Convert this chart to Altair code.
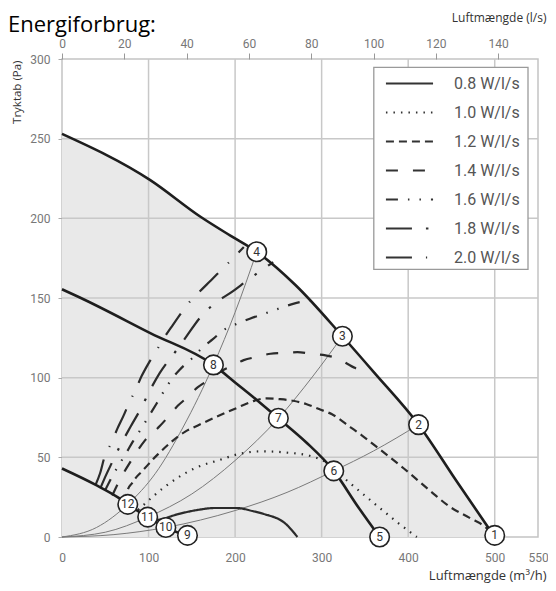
import altair as alt
import pandas as pd

TITLE = "Energiforbrug:"
X_TITLE = "Luftmængde (m³/h)"
TOP_TITLE = "Luftmængde (l/s)"
Y_TITLE = "Tryktab (Pa)"

AXIS_FONT = "Roboto, sans-serif"
TEXT_FONT = "Open Sans, sans-serif"

# axis ticks / grid
x_ticks = [0, 100, 200, 300, 400, 500, 550]
ls_ticks = [0, 20, 40, 60, 80, 100, 120, 140]
y_ticks = [0, 50, 100, 150, 200, 250, 300]
x_grid = [100, 200, 300, 400, 500]
y_grid = [50, 100, 150, 200, 250]

# fan curves (m3/h, Pa)
max_q = [0, 102, 160, 195, 225, 270, 324, 361, 412, 456, 500]
max_p = [253, 224, 201, 189, 179, 158, 126, 103, 70.5, 35, 0]
mid_q = [0, 20, 102, 175, 200, 225, 250, 282, 314, 342, 367]
mid_p = [155.5, 150.5, 128, 108, 97, 86, 74.5, 59.5, 41.5, 19, 0]
low_q = [0, 39, 66, 76, 99, 120, 145]
low_p = [43, 32.7, 24.4, 20.5, 12.5, 6, 0.5]

# system curves
sys1_q = [0, 40, 76, 108, 140, 175, 200, 225]
sys1_p = [0, 6, 20.5, 40, 69, 108, 141, 179]
sys2_q = [0, 50, 99, 150, 200, 250, 290, 324]
sys2_p = [0, 3, 12.5, 27, 48, 74.5, 101, 126]
sys3_q = [0, 60, 120, 200, 260, 314, 360, 412]
sys3_p = [0, 1.5, 6, 16.6, 28, 41.5, 54, 70.5]

# operating points
pt_id = [1, 2, 3, 4, 5, 6, 7, 8, 9, 10, 11, 12]
pt_q = [500, 412, 324, 225, 367, 314, 250, 175, 145, 120, 99, 76]
pt_p = [1, 70.5, 126, 179, 0, 41.5, 74.5, 108, 1, 6, 12.5, 20.5]

# energy (SFP) curves
sfp_labels = ["0.8 W/l/s", "1.0 W/l/s", "1.2 W/l/s", "1.4 W/l/s",
              "1.6 W/l/s", "1.8 W/l/s", "2.0 W/l/s"]
e08_q = [104, 111, 135, 157, 176, 202, 220, 233, 259, 272]
e08_p = [10.5, 10.8, 14.5, 17, 18.2, 18.2, 16.3, 14.5, 8, 0]
e10_q = [88, 92, 119, 157, 180, 206, 233, 259, 286, 305, 327, 361, 388, 410]
e10_p = [17, 19, 31.6, 44, 48, 52.3, 53.8, 53, 51, 47, 36.5, 21, 9, 0]
e12_q = [73, 76, 81, 85, 92, 111, 142, 157, 185, 202, 217, 236, 252, 267,
         282, 297, 312, 333, 346, 361, 395, 426, 448, 471, 490, 500]
e12_p = [22, 29.6, 33.8, 37, 41, 52, 66, 70, 77, 81, 84.5, 87, 86.5, 85.5,
         83.5, 80.3, 77, 69, 64, 57.7, 43, 28.7, 19, 12, 5.8, 0]
e14_q = [58, 65, 80, 95, 113, 122, 134, 143.5, 157, 168, 187, 195, 210, 224.5,
         241, 256, 272, 287.5, 304.5, 316, 339, 348]
e14_p = [26, 34, 48, 60, 69.6, 75, 82.5, 87, 94, 98, 105, 107, 111, 113,
         115, 115.5, 116, 115, 114, 112.5, 106, 104]
e16_q = [50, 57, 75, 82, 92, 102, 109, 118, 128, 136, 150, 164.5, 174, 187,
         203, 217, 233, 250, 265, 280, 292]
e16_p = [29.5, 37, 53.5, 60, 68.4, 77.3, 83.5, 91.7, 100, 105, 112, 120, 124,
         130, 134, 137, 140, 143.3, 146, 148, 149]
e18_q = [45, 51, 58, 66, 79, 90, 104, 113, 132, 142, 160, 174, 198, 214, 240, 244]
e18_p = [31.5, 39, 47, 56, 69, 79.5, 94.5, 103, 117, 124.5, 138, 145.5, 154.5,
         161, 171, 172.5]
e20_q = [39, 44, 49, 57, 64, 71, 77, 85, 92, 100, 108, 118, 128, 137, 145,
         159, 172, 183, 194, 210]
e20_p = [33, 40, 50, 59, 68, 76, 83.5, 92.4, 101, 109, 116, 125, 133, 140,
         146, 154, 161, 167, 173, 182]
sfp_dash = [[1, 0], [1.5, 6], [8, 5], [12, 15], [12, 10, 1.5, 10, 1.5, 10],
            [26, 14, 2.5, 14], [26, 14, 1.2, 14]]


def frame(name, qs, ps):
    return pd.DataFrame({"curve": name, "q": qs, "p": ps, "order": range(len(qs))})


df_max = frame("max", max_q, max_p)
df_main = pd.concat([df_max, frame("mid", mid_q, mid_p), frame("low", low_q, low_p)])
df_sys = pd.concat([frame("s1", sys1_q, sys1_p), frame("s2", sys2_q, sys2_p),
                    frame("s3", sys3_q, sys3_p)])
energy = [(e08_q, e08_p), (e10_q, e10_p), (e12_q, e12_p), (e14_q, e14_p),
          (e16_q, e16_p), (e18_q, e18_p), (e20_q, e20_p)]
df_energy = pd.concat([frame(lab, q, p) for lab, (q, p) in zip(sfp_labels, energy)])
df_pts = pd.DataFrame({"id": pt_id, "q": pt_q, "p": pt_p})

xs = alt.Scale(domain=[0, 550], nice=False, zero=False)
ys = alt.Scale(domain=[0, 300], nice=False)

bottom_axis = alt.Axis(
    orient="bottom", values=x_ticks, grid=False, domain=False, ticks=False,
    labelFlush=False, labelPadding=15, labelFont=AXIS_FONT, labelFontSize=12,
    labelColor="#777", title=X_TITLE, titleFont=TEXT_FONT, titleFontSize=13,
    titleFontWeight="normal", titleColor="#333", titleX=484, titleY=42,
    titleAlign="right", titleBaseline="alphabetic")
top_axis = alt.Axis(
    orient="top", values=[v * 3.6 for v in ls_ticks],
    labelExpr="round(datum.value / 3.6)", grid=False, domain=False, ticks=True,
    labelFlush=False, tickSize=6, tickColor="#999", labelPadding=3, labelFont=AXIS_FONT,
    labelFontSize=12, labelColor="#777", title=TOP_TITLE, titleFont=TEXT_FONT,
    titleFontSize=12, titleFontWeight="normal", titleColor="#333", titleX=484,
    titleY=-38, titleAlign="right", titleBaseline="alphabetic")
left_axis = alt.Axis(
    orient="left", values=y_ticks, grid=False, domain=False, tickSize=4, tickColor="#aaa",
    labelFlush=False, labelPadding=8, labelFont=AXIS_FONT, labelFontSize=12,
    labelColor="#777", title=Y_TITLE, titleFont=TEXT_FONT, titleFontSize=11.5,
    titleFontWeight="normal", titleColor="#333", titleX=-45, titleY=1, titleAngle=270,
    titleAlign="right", titleBaseline="middle")

area = alt.Chart(df_max).mark_area(color="#e9e9e9", interpolate="monotone").encode(
    x=alt.X("q:Q", scale=xs, axis=bottom_axis),
    y=alt.Y("p:Q", scale=ys, axis=left_axis),
)
vgrid = alt.Chart(pd.DataFrame({"q": x_grid})).mark_rule(color="#c8c8c8", strokeWidth=1.5).encode(
    x=alt.X("q:Q", scale=xs, axis=top_axis))
hgrid = alt.Chart(pd.DataFrame({"p": y_grid})).mark_rule(color="#c8c8c8", strokeWidth=1.5).encode(
    y=alt.Y("p:Q", scale=ys, axis=None))

sys_lines = alt.Chart(df_sys).mark_line(color="#7a7a7a", strokeWidth=1, interpolate="monotone").encode(
    x=alt.X("q:Q", scale=xs, axis=None), y=alt.Y("p:Q", scale=ys, axis=None),
    detail="curve:N", order="order:Q")

energy_lines = alt.Chart(df_energy).mark_line(color="#2b2b2b", strokeWidth=2.2, interpolate="monotone").encode(
    x=alt.X("q:Q", scale=xs, axis=None), y=alt.Y("p:Q", scale=ys, axis=None),
    detail="curve:N", order="order:Q",
    strokeDash=alt.StrokeDash(
        "curve:N", scale=alt.Scale(domain=sfp_labels, range=sfp_dash),
        legend=alt.Legend(
            title=None, orient="none", legendX=327, legendY=4, direction="vertical",
            symbolType="M-1.24,0H1.24", symbolSize=1444, symbolStrokeWidth=2.2,
            symbolStrokeColor="#333", labelFont=AXIS_FONT, labelFontSize=16,
            labelColor="#555", labelOffset=24, rowPadding=0, padding=0)))

main_lines = alt.Chart(df_main).mark_line(color="#1e1e1e", strokeWidth=2.6, interpolate="monotone").encode(
    x=alt.X("q:Q", scale=xs, axis=None), y=alt.Y("p:Q", scale=ys, axis=None),
    detail="curve:N", order="order:Q")

circles = alt.Chart(df_pts).mark_point(shape="circle", filled=True, fill="white", stroke="#222",
                                       strokeWidth=1.6, size=380, opacity=1).encode(
    x=alt.X("q:Q", scale=xs, axis=None), y=alt.Y("p:Q", scale=ys, axis=None))
labels = alt.Chart(df_pts).mark_text(font=AXIS_FONT, fontSize=12, color="#333",
                                     align="center", baseline="middle").encode(
    x=alt.X("q:Q", scale=xs, axis=None), y=alt.Y("p:Q", scale=ys, axis=None), text="id:N")

legend_box = alt.Chart(pd.DataFrame({"box": [1]})).mark_rect(
    fill="white", stroke="#9a9a9a", strokeWidth=1.3).encode(
    x=alt.value(311.8), x2=alt.value(466), y=alt.value(8.4), y2=alt.value(210.4))

title_text = alt.Chart(pd.DataFrame({"t": [TITLE]})).mark_text(
    font=TEXT_FONT, fontSize=22, color="#000", align="left", baseline="alphabetic").encode(
    text="t:N", x=alt.value(-54), y=alt.value(-27.3))

chart = alt.layer(area, vgrid, hgrid, sys_lines, energy_lines, main_lines, circles, labels,
                  legend_box, title_text).resolve_axis(x="independent", y="independent").properties(
    width=476, height=478,
    padding={"left": 54, "top": 51, "right": 10, "bottom": 46},
    autosize=alt.AutoSizeParams(type="none"),
).configure_view(stroke="#c4c4c4", strokeWidth=1.5)

chart.save("out.html", embed_options={"renderer": "svg", "actions": False})
